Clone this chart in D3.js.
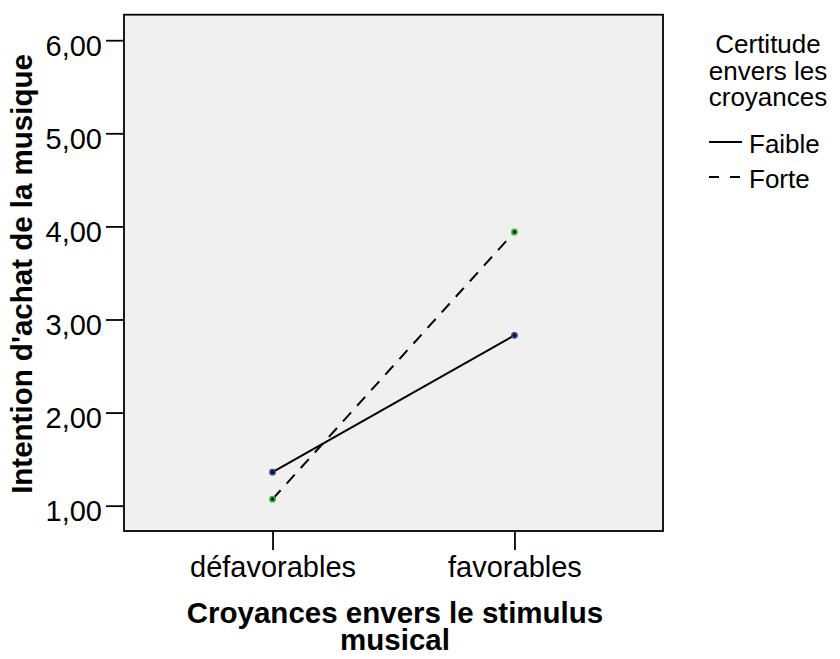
<!DOCTYPE html>
<html><head><meta charset="utf-8">
<script src="https://cdn.jsdelivr.net/npm/d3@7/dist/d3.min.js"></script>
<style>body{margin:0;background:#fff;}svg{display:block;font-family:"Liberation Sans",Arial,sans-serif;}</style>
</head><body>
<script>
const categories = ["défavorables", "favorables"];
const seriesNames = ["Faible", "Forte"];
const faible = [1.36, 2.83];
const forte = [1.07, 3.94];
const yTicks = [1, 2, 3, 4, 5, 6];
const legendTitle = ["Certitude", "envers les", "croyances"];

const W = 840, H = 659;
const L = 124, R = 663, T = 14.7, B = 531;
const svg = d3.select("body").append("svg").attr("width", W).attr("height", H);

const x = d3.scalePoint().domain(categories).range([L, R]).padding(0.614);
const y = d3.scaleLinear().domain([0.728, 6.274]).range([B, T]);

svg.append("rect").attr("x", L).attr("y", T).attr("width", R - L).attr("height", B - T)
  .attr("fill", "#f0f0f0").attr("stroke", "#000").attr("stroke-width", 1.8);

const fmt = d => d3.format(".2f")(d).replace(".", ",");
const yAxis = svg.append("g").attr("transform", `translate(${L},0)`)
  .call(d3.axisLeft(y).tickValues(yTicks).tickSize(18).tickPadding(4).tickFormat(fmt));
yAxis.select(".domain").remove();
yAxis.selectAll("line").attr("stroke", "#000").attr("stroke-width", 1.8);
yAxis.selectAll("text").attr("font-size", 29).attr("dy", "0.52em").attr("fill", "#000")
  .attr("font-family", "Liberation Sans, Arial, sans-serif");

const xAxis = svg.append("g").attr("transform", `translate(0,${B})`)
  .call(d3.axisBottom(x).tickSize(19).tickPadding(6));
xAxis.select(".domain").remove();
xAxis.selectAll("line").attr("stroke", "#000").attr("stroke-width", 1.8);
xAxis.selectAll("text").attr("font-size", 29).attr("fill", "#000")
  .attr("font-family", "Liberation Sans, Arial, sans-serif");

const series = [
  {name: seriesNames[0], vals: faible, dash: null, color: "#2c4a9e"},
  {name: seriesNames[1], vals: forte, dash: "12,9", color: "#2fbf3f"}
];
const line = d3.line().x(d => x(d.c)).y(d => y(d.v));
series.forEach(s => {
  const pts = categories.map((c, i) => ({c, v: s.vals[i]}));
  svg.append("path").datum(pts).attr("d", line).attr("fill", "none")
    .attr("stroke", "#000").attr("stroke-width", 2)
    .attr("stroke-dasharray", s.dash);
  svg.selectAll(null).data(pts).enter().append("circle")
    .attr("cx", d => x(d.c)).attr("cy", d => y(d.v)).attr("r", 2.6)
    .attr("fill", "#111").attr("stroke", s.color).attr("stroke-width", 1.6);
});

svg.append("text").attr("transform", `translate(32,274) rotate(-90)`)
  .attr("text-anchor", "middle").attr("font-size", 29.5).attr("font-weight", "bold")
  .text("Intention d'achat de la musique");

const xl = svg.append("text").attr("text-anchor", "middle").attr("font-size", 29.5).attr("font-weight", "bold");
xl.append("tspan").attr("x", 395).attr("y", 623).text("Croyances envers le stimulus");
xl.append("tspan").attr("x", 395).attr("y", 650).text("musical");

const lt = svg.append("text").attr("text-anchor", "middle").attr("font-size", 26);
legendTitle.forEach((t, i) => lt.append("tspan").attr("x", 768).attr("y", 53 + i * 26.5).text(t));

series.forEach((s, i) => {
  const yy = 142 + i * 35;
  svg.append("line").attr("x1", 709).attr("x2", 742).attr("y1", yy).attr("y2", yy)
    .attr("stroke", "#000").attr("stroke-width", 2).attr("stroke-dasharray", s.dash ? "10,11" : null);
  svg.append("text").attr("x", 749).attr("y", yy + 11).attr("font-size", 26).text(s.name);
});
</script>
</body></html>
